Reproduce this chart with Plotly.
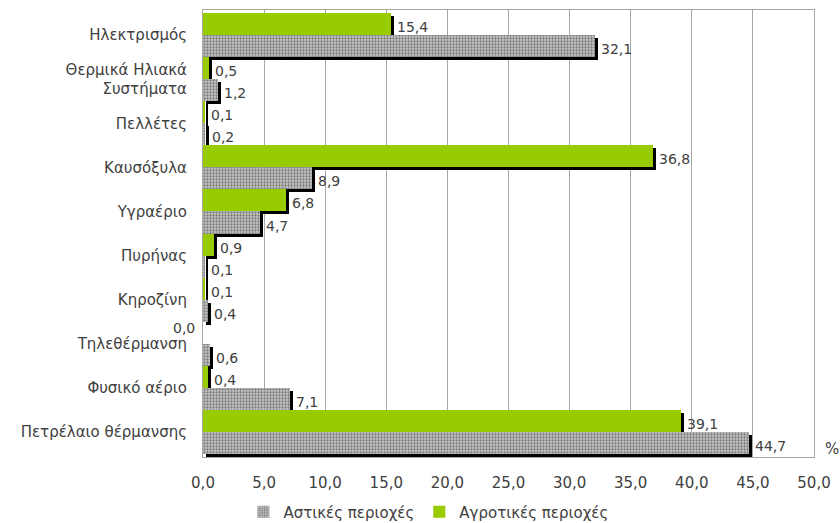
import plotly.graph_objects as go

# Main heating energy sources by area type (%)
categories = [
    "Ηλεκτρισμός",
    "Θερμικά Ηλιακά<br>Συστήματα",
    "Πελλέτες",
    "Καυσόξυλα",
    "Υγραέριο",
    "Πυρήνας",
    "Κηροζίνη",
    "Τηλεθέρμανση",
    "Φυσικό αέριο",
    "Πετρέλαιο θέρμανσης",
]
urban = [32.1, 1.2, 0.2, 8.9, 4.7, 0.1, 0.4, 0.6, 7.1, 44.7]
rural = [15.4, 0.5, 0.1, 36.8, 6.8, 0.9, 0.1, 0.0, 0.4, 39.1]
x_ticks = [0, 5, 10, 15, 20, 25, 30, 35, 40, 45, 50]

urban_name = "Αστικές περιοχές"
rural_name = "Αγροτικές περιοχές"

TEXT = "#404040"
FONT = "DejaVu Sans"
FS = 15
GREEN = "#99cc00"
SHADOW_DX = 0.25    # shadow shift along x (value units)
SHADOW_DY = 0.068   # shadow shift along y (category units)

W, H = 840, 523
L, R, T, B = 203, 26, 10, 66
PW, PH = W - L - R, H - T - B


def fmt(v):
    return f"{v:.1f}".replace(".", ",")


fig = go.Figure()

# Drop shadows (drawn first, sit behind the coloured bars); they carry the value labels
for vals, off in ((rural, -0.5), (urban, 0.0)):
    fig.add_trace(go.Bar(
        y=categories, x=vals, base=SHADOW_DX, orientation="h",
        width=0.5, offset=off + SHADOW_DY,
        marker=dict(color="black", line=dict(width=0)),
        text=[fmt(v) if v > 0 else "" for v in vals],
        textposition="outside", cliponaxis=False,
        textfont=dict(family=FONT, size=FS - 1, color=TEXT),
        showlegend=False, hoverinfo="skip",
    ))

fig.add_trace(go.Bar(
    y=categories, x=rural, orientation="h", name=rural_name,
    width=0.5, offset=-0.5, legendrank=2,
    marker=dict(color=GREEN, line=dict(width=0)),
))
fig.add_trace(go.Bar(
    y=categories, x=urban, orientation="h", name=urban_name,
    width=0.5, offset=0.0, legendrank=1,
    marker=dict(
        color="#c0c0c0", line=dict(width=0),
        pattern=dict(shape=".", size=3, solidity=0.45,
                     fgcolor="#7a7a7a", bgcolor="#c8c8c8", fillmode="replace"),
    ),
))

# Zero-valued labels sit left of the axis
annotations = []
for cat, v in zip(categories, rural):
    if v == 0:
        annotations.append(dict(
            x=0, y=cat, xref="x", yref="y", text=fmt(v), showarrow=False,
            xanchor="right", xshift=-6, yshift=16,
            font=dict(family=FONT, size=FS - 1, color=TEXT),
        ))
annotations.append(dict(
    x=(832 - L) / PW, y=(H - B - 449) / PH, xref="paper", yref="paper",
    text="%", showarrow=False, xanchor="center", yanchor="middle",
    font=dict(family=FONT, size=FS, color=TEXT),
))

fig.update_layout(
    width=W, height=H,
    margin=dict(l=L, r=R, t=T, b=B, autoexpand=False),
    paper_bgcolor="white", plot_bgcolor="white",
    barmode="overlay", bargap=0,
    separators=",.",
    font=dict(family=FONT, size=FS, color=TEXT),
    annotations=annotations,
    legend=dict(
        orientation="h", xref="container", yref="container",
        x=0.51, y=11 / H, xanchor="center", yanchor="middle",
        font=dict(family=FONT, size=FS, color=TEXT),
        itemwidth=30, traceorder="normal",
    ),
    xaxis=dict(
        range=[0, 50], tickvals=x_ticks, tickformat=".1f",
        showgrid=True, gridcolor="#a6a6a6", gridwidth=1,
        showline=True, linecolor="#a6a6a6", mirror=True,
        zeroline=False, ticks="", ticklabelstandoff=12,
        tickfont=dict(family=FONT, size=FS, color=TEXT),
    ),
    yaxis=dict(
        categoryorder="array", categoryarray=categories,
        range=[9.57, -0.57],
        showgrid=False, showline=True, linecolor="#a6a6a6", mirror=True,
        ticks="", ticklabelstandoff=12,
        tickfont=dict(family=FONT, size=FS, color=TEXT),
    ),
)

fig.write_html("out.html")
